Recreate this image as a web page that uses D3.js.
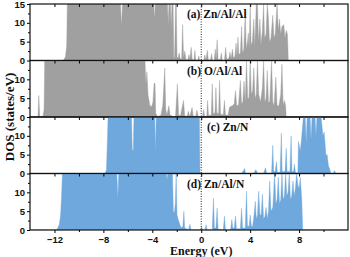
<!DOCTYPE html>
<html>
<head>
<meta charset="utf-8">
<script src="https://cdn.jsdelivr.net/npm/d3@7"></script>
<style>
  body { margin: 0; background: #fff; }
  svg { display: block; }
</style>
</head>
<body>
<svg></svg>
<script>
let width = 350
let height = 257

let panelNames = ['(a) Zn/Al/Al', '(b) O/Al/Al', '(c) Zn/N', '(d) Zn/Al/N']
let panelColors = ['#a0a0a0', '#a0a0a0', '#6fa8dc', '#6fa8dc']
let xTicks = [-12, -8, -4, 0, 4, 8]
let xMinorTicks = [-14, -12, -10, -8, -6, -4, -2, 0, 2, 4, 6, 8, 10, 12]
let yTicks = [0, 5, 10, 15]

// [energy, dos], values clipped at 15
let dosA = [[-14,0],[-11.3,0],[-11.2,0.4],[-11.1,1],[-11.0,4],[-10.95,15],
  [-6.6,15],[-6.52,9],[-6.44,15],[-3.88,15],[-3.82,10.9],[-3.76,15],
  [-2.76,15],[-2.7,9.5],[-2.64,15],[-2.52,15],[-2.46,8.7],[-2.4,15],
  [-2.3,15],[-2.24,1],[-2.18,0.5],[-2.1,15],[-2.04,15],[-1.98,1],[-1.9,0.6],[-1.8,2],
  [-1.72,0.5],[-1.6,0.3],[-1.52,9.5],[-1.44,0.8],[-1.34,2.5],[-1.26,0.3],[-1.1,0.2],[-1.0,1.5],
  [-0.94,0.2],[-0.82,3.5],[-0.74,0.3],[-0.6,0.1],[-0.52,2.7],[-0.45,0.2],[-0.3,0],[-0.2,1.2],[-0.12,0],
  [0.2,0],[0.3,1.5],[0.38,0],[0.5,2.7],[0.58,0.2],[0.75,0.1],[0.85,1.8],[0.92,0],[1.05,0],[1.15,3],
  [1.22,0.3],[1.3,5.5],[1.38,0.3],[1.55,0.2],[1.65,2],[1.72,0],[1.9,0],[2.0,3.5],[2.08,0.3],[2.25,0.5],
  [2.35,2.2],[2.45,0.5],[2.55,3],[2.62,0.8],[2.75,1],[2.85,4.6],[2.92,1],[3.0,6.2],[3.08,1.5],[3.2,2],
  [3.3,9],[3.38,2],[3.48,3],[3.6,12.8],[3.68,3],[3.78,5],[3.85,7.3],[3.92,3],[4.0,15],[4.08,4],[4.18,5],
  [4.3,11],[4.38,3.5],[4.5,15],[4.6,15],[4.68,5],[4.8,11],[4.88,4],[5.0,8],[5.1,15],[5.18,6],[5.3,7],
  [5.4,15],[5.5,11],[5.58,5],[5.7,6],[5.85,12],[5.95,6],[6.05,7],[6.2,15],[6.3,8],[6.4,11],[6.5,7],
  [6.6,9],[6.75,9.5],[6.85,6],[6.95,8],[7.05,7],[7.12,0],[12,0]]

let dosB = [[-14,0],[-13.35,0],[-13.28,5.7],[-13.2,0],[-12.95,0],[-12.85,2],[-12.8,15],
  [-4.6,15],[-4.52,8.8],[-4.44,12],[-4.35,6],[-4.2,3],[-4.05,2.8],[-3.95,4],[-3.85,8.9],[-3.78,9],
  [-3.72,1],[-3.55,0],[-3.3,0.5],[-3.15,3],[-2.98,13],[-2.9,2],[-2.8,0.5],[-2.65,3],[-2.55,0.5],[-2.4,0.3],
  [-2.3,0],[-2.1,0.3],[-1.95,8.8],[-1.85,0.5],[-1.7,0.3],[-1.45,4.4],[-1.35,0.3],[-1.15,0.2],[-1.05,1.5],
  [-0.95,0],[-0.75,2.5],[-0.65,0.2],[-0.45,0.2],[-0.35,1.8],[-0.25,0],[0.1,0],[0.2,2],[0.28,0],[0.45,0.2],
  [0.52,4.4],[0.6,0.3],[0.82,0.5],[0.9,8.8],[0.98,1],[1.12,1],[1.2,7.8],[1.28,1],[1.42,1],[1.5,9.7],
  [1.58,0.8],[1.8,0.5],[1.9,4.4],[1.98,0.5],[2.2,0.5],[2.3,2.5],[2.4,2.8],[2.55,3],[2.7,3.5],[2.8,7],
  [2.9,3],[3.05,3.2],[3.2,9.7],[3.3,3.5],[3.4,4],[3.5,9.5],[3.6,4],[3.7,15],[3.8,5],[3.9,5],[4.0,15],
  [4.1,6],[4.2,7],[4.3,13],[4.4,5],[4.5,6],[4.6,15],[4.7,6],[4.85,4],[5.0,7.8],[5.1,15],[5.2,4],[5.3,5],
  [5.4,12.3],[5.5,4],[5.6,4],[5.75,15],[5.85,4],[5.95,3],[6.1,10.6],[6.2,3],[6.35,3],[6.5,6],[6.6,14],
  [6.7,3],[6.8,4.4],[6.9,3],[6.95,0],[12,0]]

let dosC = [[-14,0],[-7.85,0],[-7.75,1],[-7.68,8],[-7.62,15],[-5.7,15],[-5.64,6.2],[-5.56,6.2],[-5.5,15],
  [-3.8,15],[-3.74,5.8],[-3.68,15],[-0.15,15],[-0.1,0],[3.3,0],[3.4,0.5],[3.55,1.3],[3.62,0],[4.3,0],
  [4.45,1],[4.55,0.5],[4.6,0],[5.1,0],[5.25,1.5],[5.35,0],[5.75,0],[5.85,7.5],[5.92,0.5],[6.05,0.5],
  [6.15,3.2],[6.22,0.3],[6.45,0.3],[6.55,10.7],[6.62,0.5],[6.85,0.5],[6.95,6.7],[7.02,0.5],[7.25,0.5],
  [7.35,10],[7.42,0.5],[7.55,0.5],[7.62,2.5],[7.7,0.3],[7.9,0],[7.95,8.5],[8.1,6],[8.2,9.3],[8.35,15],
  [8.5,15],[8.58,8],[8.66,15],[8.9,15],[8.98,9],[9.06,15],[9.3,15],[9.38,10],[9.46,15],[9.8,15],
  [9.95,10],[10.05,11],[10.2,4.8],[10.3,5],[10.4,2],[10.5,1.3],[10.6,0],[10.8,0],[10.9,0.8],[11,0],[12,0]]

let dosD = [[-14,0],[-11.85,0],[-11.75,0.4],[-11.6,1.5],[-11.5,4],[-11.42,9],[-11.35,15],[-6.9,15],
  [-6.82,8.4],[-6.74,15],[-2.86,15],[-2.8,13.4],[-2.74,15],[-2.35,15],[-2.28,5],[-2.2,4.5],[-2.12,7],
  [-2.05,15],[-1.98,4],[-1.9,3],[-1.8,2],[-1.7,1],[-1.6,0.6],[-1.5,1],[-1.42,5],[-1.35,0.5],[-1.2,0.3],
  [-1.05,0],[-0.92,1.5],[-0.85,0],[-0.1,0],[0.05,0.8],[0.12,0],[0.3,0],[0.4,1.4],[0.48,0],[0.9,0],
  [1.0,8.4],[1.08,0.5],[1.2,0.5],[1.3,5.8],[1.38,0.2],[1.8,0],[1.9,3.7],[1.98,0],[2.4,0],[2.5,2.8],
  [2.58,0.5],[2.7,0.5],[2.8,3.7],[2.88,0.3],[3.2,0.3],[3.3,5.8],[3.38,0.5],[3.6,0.5],[3.7,10.3],[3.78,1],
  [3.92,1],[4.0,4],[4.1,1],[4.2,1],[4.32,4],[4.42,7.6],[4.5,3],[4.6,4],[4.7,10.3],[4.8,4],[4.9,4],
  [5.0,9.5],[5.1,3],[5.2,3.5],[5.3,6],[5.4,3],[5.5,5],[5.6,13],[5.7,5],[5.85,6],[6.0,15],[6.1,7],
  [6.2,8],[6.3,14],[6.4,7],[6.5,8],[6.6,15],[6.7,8],[6.8,9],[6.9,15],[7.0,9],[7.1,10],[7.2,15],[7.3,8],
  [7.4,9],[7.5,13],[7.6,9],[7.7,11],[7.8,15],[7.9,12],[8.0,11],[8.1,14],[8.22,8],[8.3,0],[12,0]]

let panelData = [dosA, dosB, dosC, dosD]

let svg = d3.select('svg').attr('width', width).attr('height', height)

let plotLeft = 30
let plotRight = 348
let plotTop = 4
let panelH = 56.5

let xScale = d3.scaleLinear().domain([-14, 12]).range([plotLeft, plotRight])

let tickFont = 'Liberation Sans, Arial, sans-serif'
let titleFont = 'Liberation Serif, Times New Roman, serif'

panelData.forEach((data, i) => {
    let y0 = plotTop + i * panelH
    let yScale = d3.scaleLinear().domain([0, 15]).range([y0 + panelH, y0])

    let clipId = 'clip' + i
    svg.append('clipPath').attr('id', clipId)
       .append('rect')
       .attr('x', plotLeft).attr('y', y0)
       .attr('width', plotRight - plotLeft).attr('height', panelH)

    let area = d3.area()
                 .x((d) => xScale(d[0]))
                 .y0(yScale(0))
                 .y1((d) => yScale(d[1]))

    svg.append('path')
       .datum(data)
       .attr('clip-path', 'url(#' + clipId + ')')
       .attr('d', area)
       .attr('fill', panelColors[i])
       .attr('stroke', panelColors[i])
       .attr('stroke-width', 0.4)

    // fermi level
    svg.append('line')
       .attr('x1', xScale(0)).attr('x2', xScale(0))
       .attr('y1', y0).attr('y2', y0 + panelH)
       .attr('stroke', '#222')
       .attr('stroke-width', 1)
       .attr('stroke-dasharray', '1,1.5')

    // y axis
    let ticks = i === 0 ? yTicks : yTicks.slice(0, 3)
    let yAxis = d3.axisLeft(yScale).tickValues(ticks).tickSize(3).tickFormat(d3.format('d'))
    let gy = svg.append('g')
       .attr('transform', 'translate(' + plotLeft + ',0)')
       .call(yAxis)
    gy.select('.domain').remove()
    gy.selectAll('text')
      .attr('font-family', tickFont).attr('font-weight', 'bold').attr('font-size', 9.5).attr('fill', '#111')
      .attr('x', -5)
    gy.selectAll('line').attr('stroke-width', 1)

    let minor = d3.axisLeft(yScale).tickValues([2.5, 7.5, 12.5]).tickSize(2).tickFormat('')
    let gm = svg.append('g').attr('transform', 'translate(' + plotLeft + ',0)').call(minor)
    gm.select('.domain').remove()

    // x ticks pointing into the panel from its top edge
    let topTicks = d3.axisBottom(xScale).tickValues(xMinorTicks.slice(1, -1)).tickSize(3).tickFormat('')
    let gt = svg.append('g').attr('transform', 'translate(0,' + y0 + ')').call(topTicks)
    gt.select('.domain').remove()

    // frame
    svg.append('rect')
       .attr('x', plotLeft).attr('y', y0)
       .attr('width', plotRight - plotLeft).attr('height', panelH)
       .attr('fill', 'none')
       .attr('stroke', '#111')
       .attr('stroke-width', 1.2)

    svg.append('text')
       .attr('x', i === 2 ? 207 : 187)
       .attr('y', y0 + 14)
       .attr('font-family', titleFont)
       .attr('font-weight', 'bold')
       .attr('font-size', 11.5)
       .attr('fill', '#111')
       .text(panelNames[i])
})

let plotBottom = plotTop + 4 * panelH

let xAxis = d3.axisBottom(xScale).tickValues(xTicks).tickSize(3).tickFormat(d3.format('d'))
let gx = svg.append('g').attr('transform', 'translate(0,' + plotBottom + ')').call(xAxis)
gx.select('.domain').remove()
gx.selectAll('text')
  .attr('font-family', tickFont).attr('font-weight', 'bold').attr('font-size', 9.5).attr('fill', '#111')
  .attr('y', 6)

let xMinor = d3.axisBottom(xScale).tickValues(xMinorTicks.filter((d) => xTicks.indexOf(d) < 0 && d > -14 && d < 12)).tickSize(2).tickFormat('')
let gxm = svg.append('g').attr('transform', 'translate(0,' + plotBottom + ')').call(xMinor)
gxm.select('.domain').remove()

svg.append('text')
   .attr('x', xScale(0))
   .attr('y', 255)
   .attr('text-anchor', 'middle')
   .attr('font-family', titleFont)
   .attr('font-weight', 'bold')
   .attr('font-size', 12)
   .attr('fill', '#111')
   .text('Energy (eV)')

svg.append('text')
   .attr('transform', 'translate(14,' + (plotTop + 2 * panelH) + ') rotate(-90)')
   .attr('text-anchor', 'middle')
   .attr('font-family', titleFont)
   .attr('font-weight', 'bold')
   .attr('font-size', 13)
   .attr('fill', '#111')
   .text('DOS (states/eV)')
</script>
</body>
</html>
